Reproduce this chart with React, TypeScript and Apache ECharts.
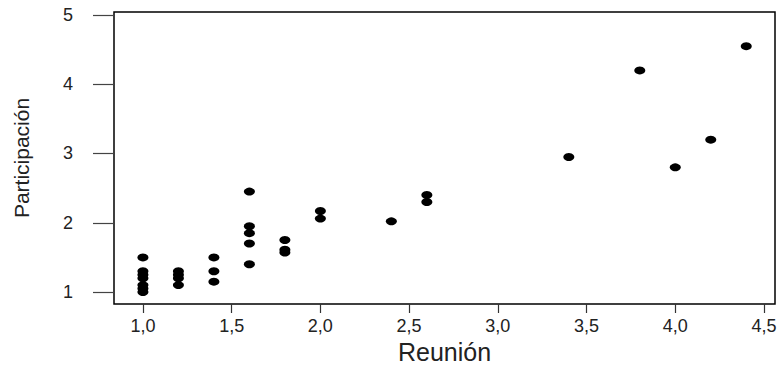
import React, { useEffect, useRef } from "react";
import * as echarts from "echarts";

const reunion = [
  1.0, 1.0, 1.0, 1.0, 1.0, 1.0, 1.0,
  1.2, 1.2, 1.2, 1.2,
  1.4, 1.4, 1.4,
  1.6, 1.6, 1.6, 1.6, 1.6,
  1.8, 1.8, 1.8,
  2.0, 2.0,
  2.4,
  2.6, 2.6,
  3.4, 3.8, 4.0, 4.2, 4.4,
];
const participacion = [
  1.5, 1.3, 1.25, 1.2, 1.1, 1.05, 1.0,
  1.3, 1.25, 1.2, 1.1,
  1.5, 1.3, 1.15,
  2.45, 1.95, 1.85, 1.7, 1.4,
  1.75, 1.61, 1.57,
  2.17, 2.06,
  2.02,
  2.4, 2.3,
  2.95, 4.2, 2.8, 3.2, 4.55,
];
const xTicks = [1.0, 1.5, 2.0, 2.5, 3.0, 3.5, 4.0, 4.5];
const yTicks = [1, 2, 3, 4, 5];

export default function App() {
  const ref = useRef<HTMLDivElement>(null);
  useEffect(() => {
    if (!ref.current) return;
    const chart = echarts.init(ref.current, null, { renderer: "svg" });
    const font = "'Liberation Sans', Arial, sans-serif";
    chart.setOption({
      animation: false,
      backgroundColor: "#ffffff",
      grid: {
        left: 114,
        right: 5,
        top: 12,
        bottom: 61,
        outerBoundsMode: "none",
        containLabel: false,
        show: true,
        borderColor: "#000",
        borderWidth: 1.5,
        backgroundColor: "transparent",
      },
      xAxis: {
        type: "value",
        min: 0.837,
        max: 4.562,
        name: "Reunión",
        nameLocation: "middle",
        nameGap: 32,
        nameTextStyle: { fontFamily: font, fontSize: 25, color: "#222" },
        axisLine: { show: false },
        splitLine: { show: false },
        axisTick: {
          show: true,
          length: 9,
          customValues: xTicks,
          lineStyle: { color: "#333", width: 1.2 },
        },
        axisLabel: {
          customValues: xTicks,
          margin: 13,
          fontFamily: font,
          fontSize: 18,
          color: "#222",
          formatter: (v: number) => v.toFixed(1).replace(".", ","),
        },
      },
      yAxis: {
        type: "value",
        min: 0.827,
        max: 5.043,
        name: "Participación",
        nameLocation: "middle",
        nameGap: 82,
        nameTextStyle: { fontFamily: font, fontSize: 21, color: "#222" },
        axisLine: { show: false },
        splitLine: { show: false },
        axisTick: {
          show: true,
          length: 21,
          customValues: yTicks,
          lineStyle: { color: "#444", width: 1.2 },
        },
        axisLabel: {
          customValues: yTicks,
          margin: 41,
          fontFamily: font,
          fontSize: 18,
          color: "#222",
        },
      },
      series: [
        {
          type: "scatter",
          data: reunion.map((x, i) => [x, participacion[i]]),
          symbol: "circle",
          symbolSize: [11, 8],
          itemStyle: { color: "#000", opacity: 1 },
        },
      ],
    });
    return () => chart.dispose();
  }, []);
  return (
    <div
      ref={ref}
      style={{ position: "fixed", left: 0, top: 0, width: 780, height: 365, background: "#fff" }}
    />
  );
}
